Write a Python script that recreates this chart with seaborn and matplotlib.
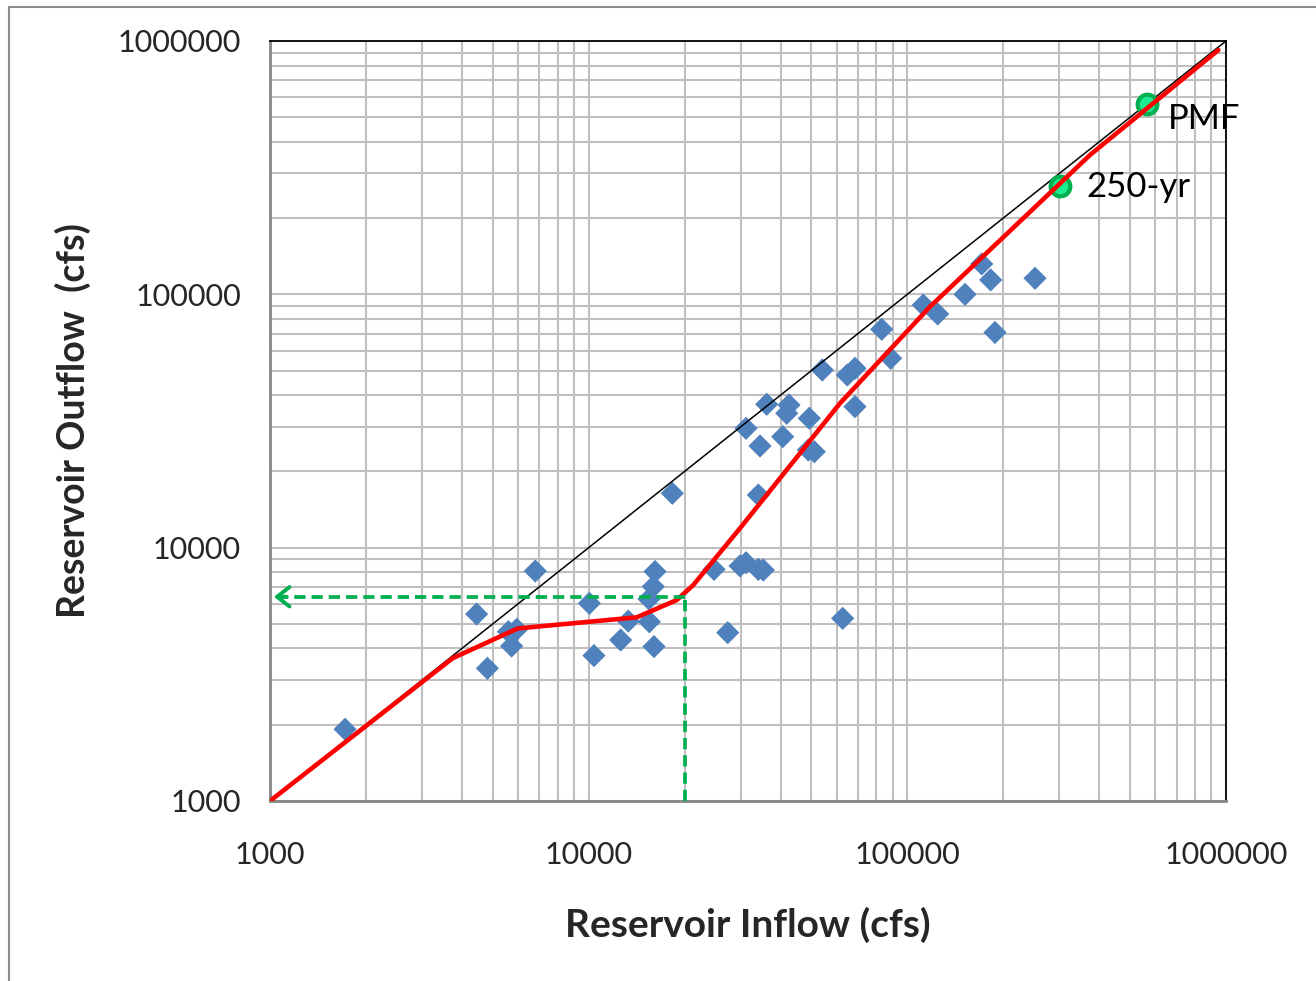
import numpy as np
import pandas as pd
import matplotlib
matplotlib.use("Agg")
import matplotlib.pyplot as plt
import seaborn as sns
from matplotlib.ticker import FixedLocator, FixedFormatter, NullFormatter
from matplotlib.patches import Rectangle

# ---------------- data ----------------
inflow = [1720, 4450, 4810, 5600, 5950, 5730, 6800, 10050, 10390, 12600, 13310,
          15500, 16030, 16150, 15950, 15460, 18300, 24740, 27310, 29850, 31170,
          34070, 35320, 62680, 34070, 31170, 34490, 36200, 40630, 41820, 42530,
          49250, 48890, 51050, 54090, 64800, 68500, 68500, 83090, 88670, 112200,
          124500, 151700, 171200, 182600, 188400, 251600]
outflow = [1920, 5470, 3340, 4660, 4760, 4090, 8090, 6030, 3750, 4320, 5130,
           5100, 4070, 8050, 7020, 6270, 16390, 8210, 4620, 8470, 8720,
           8210, 8160, 5260, 16140, 29590, 25200, 36810, 27420, 33920, 36580,
           32410, 24300, 23920, 50270, 48040, 51050, 36020, 72780, 55930, 90760,
           83650, 100000, 131800, 114000, 70700, 115700]

curve_in = [1000, 3740, 5990, 14150, 18890, 21300, 29850, 61470, 117800,
            374300, 946000]
curve_out = [1000, 3660, 4800, 5310, 6210, 7120, 11930, 37150, 89370,
             354900, 921000]

equal_line = [1000, 1000000]

event_names = ["PMF", "250-yr"]
event_in = [566000, 301000]
event_out = [564000, 268000]

design_in = 20000
design_out = 6400

tick_vals = [1000, 10000, 100000, 1000000]
tick_labels = ["1000", "10000", "100000", "1000000"]

# ---------------- style ----------------
sns.set_style("white")
plt.rcParams["font.family"] = ["Lato", "DejaVu Sans"]

fig = plt.figure(figsize=(13.16, 9.81), dpi=100)
ax = fig.add_axes([270 / 1316, 1 - 801 / 981, (1226 - 270) / 1316, (801 - 41) / 981])

ax.set_xscale("log")
ax.set_yscale("log")
ax.set_xlim(1000, 1000000)
ax.set_ylim(1000, 1000000)

minor = [m * 10 ** e for e in range(3, 6) for m in range(2, 10)]
for axis in (ax.xaxis, ax.yaxis):
    axis.set_major_locator(FixedLocator(tick_vals))
    axis.set_major_formatter(FixedFormatter(tick_labels))
    axis.set_minor_locator(FixedLocator(minor))
    axis.set_minor_formatter(NullFormatter())

ax.grid(True, which="both", color="#BFBFBF", linewidth=1.5, zorder=0)
ax.set_axisbelow(True)

ax.tick_params(axis="both", which="major", direction="out", length=9, width=1.5,
               color="#868686", labelsize=22, pad=12)
ax.tick_params(axis="both", which="minor", length=0)
ax.tick_params(axis="x", which="major", pad=20)

for s in ("left", "bottom"):
    ax.spines[s].set_color("#868686")
    ax.spines[s].set_linewidth(2)
for s in ("top", "right"):
    ax.spines[s].set_color("black")
    ax.spines[s].set_linewidth(1.3)

# scatter of observed events
sns.scatterplot(x=inflow, y=outflow, marker="D", s=140, color="#4F81BD",
                edgecolor="none", linewidth=0, ax=ax, zorder=3)

# 1:1 line
sns.lineplot(x=equal_line, y=equal_line, color="black", linewidth=1.1,
             sort=False, estimator=None, ax=ax, zorder=4)

# design events
sns.scatterplot(x=event_in, y=event_out, marker="o", s=200, color="#1CEB8F",
                edgecolor="#00B050", linewidth=3, ax=ax, zorder=5)

# routing curve
sns.lineplot(x=curve_in, y=curve_out, color="#FF0000", linewidth=3.3,
             sort=False, estimator=None, ax=ax, zorder=6)

# design guide lines
ax.plot([design_in, design_in], [1000, design_out], color="#00B050", lw=2.7,
        dashes=(3.0, 1.6), zorder=7)
ax.plot([design_in, 1000 * 1.03], [design_out, design_out], color="#00B050", lw=2.7,
        dashes=(3.0, 1.6), zorder=7)
ax.annotate("", xy=(1000 * 1.008, design_out), xytext=(1000 * 1.15, design_out),
            arrowprops=dict(arrowstyle="->,head_length=0.9,head_width=0.7",
                            color="#00B050", lw=2.8),
            zorder=7)

# labels for events
ax.annotate(event_names[0], xy=(event_in[0], event_out[0]), xytext=(15, -11),
            textcoords="offset points", fontsize=25, color="black", zorder=8,
            ha="left", va="center", annotation_clip=False)
ax.annotate(event_names[1], xy=(event_in[1], event_out[1]), xytext=(19, -1),
            textcoords="offset points", fontsize=25, color="black", zorder=8,
            ha="left", va="center")

ax.set_xlabel("Reservoir Inflow (cfs)", fontsize=28, fontweight="bold", labelpad=27)
ax.set_ylabel("Reservoir Outflow  (cfs)", fontsize=27, fontweight="bold", labelpad=19)

# outer chart border
fig.patches.append(Rectangle((9 / 1316, -0.1), 1.2, 1 - 7 / 981 + 0.1,
                             transform=fig.transFigure, fill=False,
                             edgecolor="#8C8C8C", linewidth=1.5, zorder=0))

fig.savefig("out.png", dpi=100, facecolor="white")
